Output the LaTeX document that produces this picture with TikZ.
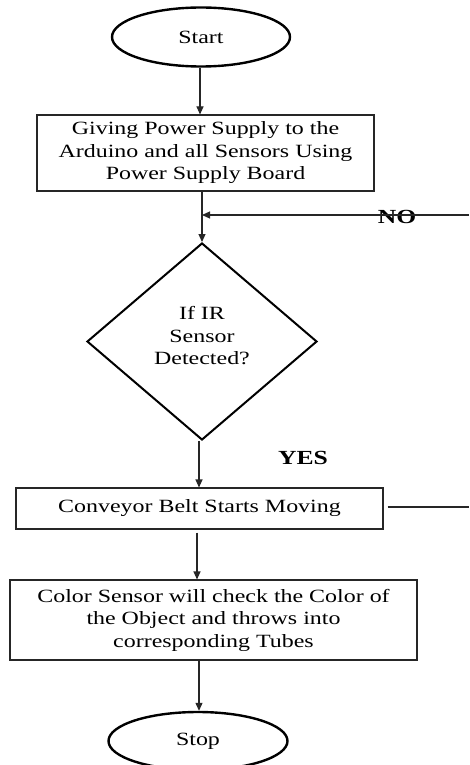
\documentclass[tikz,border=0pt]{standalone}
\usepackage{fontspec}
\setmainfont[FakeStretch=1.28]{Liberation Serif}
\usetikzlibrary{arrows.meta,shapes.geometric}
\tikzset{
  term/.style={ellipse,draw=black,line width=2.4pt,inner sep=0pt},
  procbox/.style={rectangle,draw=black!85,line width=1.1pt,inner sep=0pt,align=center},
  decide/.style={diamond,draw=black,line width=2pt,inner sep=0pt,align=center},
  flow/.style={draw=black!85,line width=1.1pt,-{Triangle[width=7pt,length=8pt]}},
  plainline/.style={draw=black!85,line width=1.1pt},
  lbl/.style={font=\bfseries\fontsize{20}{22}\selectfont,inner sep=0pt}
}
\begin{document}
\begin{tikzpicture}[x=1pt,y=1pt,font=\fontsize{18.7}{22.5}\selectfont]
\useasboundingbox[fill=white] (0,0) rectangle (469,-765);
\node[term,minimum width=178pt,minimum height=59pt] (start) at (201,-37) {Start};
\node[procbox,minimum width=337pt,minimum height=76pt] (box1) at (205.5,-153)
  {Giving Power Supply to the\\Arduino and all Sensors Using\\Power Supply Board};
\node[decide,minimum width=230pt,minimum height=197pt] (dec) at (202,-341.5) {};
\node[align=center,inner sep=0pt] (dect) at (202,-336) {If IR\\Sensor\\Detected?};
\node[procbox,minimum width=367pt,minimum height=41pt] (box2) at (199.5,-508.5)
  {Conveyor Belt Starts Moving};
\node[procbox,minimum width=407pt,minimum height=80pt] (box3) at (213.5,-620)
  {Color Sensor will check the Color of\\the Object and throws into\\corresponding Tubes};
\node[term,minimum width=179pt,minimum height=58pt] (stop) at (198,-741) {Stop};
\node[lbl] (no) at (397,-217) {NO};
\node[lbl] (yes) at (303,-458) {YES};
\coordinate (noin) at (469,-215);
\coordinate (yesout) at (469,-507);
\draw[flow] (start.south -| 200,0) -- (box1.north -| 200,0);
\draw[plainline] (box1.south -| dec.north) -- (dec.north |- noin);
\draw[flow] (dec.north |- noin) -- (dec.north);
\draw[flow] (noin) -- (dec.north |- noin);
\draw[flow] (dec.south -| 199,0) -- (box2.north -| 199,0);
\draw[plainline] (box2.east |- yesout) ++(4,0) -- (yesout);
\draw[flow] (box2.south -| 197,0) ++(0,-3) -- (box3.north -| 197,0);
\draw[flow] (box3.south -| 199,0) -- (stop.north -| 199,0);
\end{tikzpicture}
\end{document}
